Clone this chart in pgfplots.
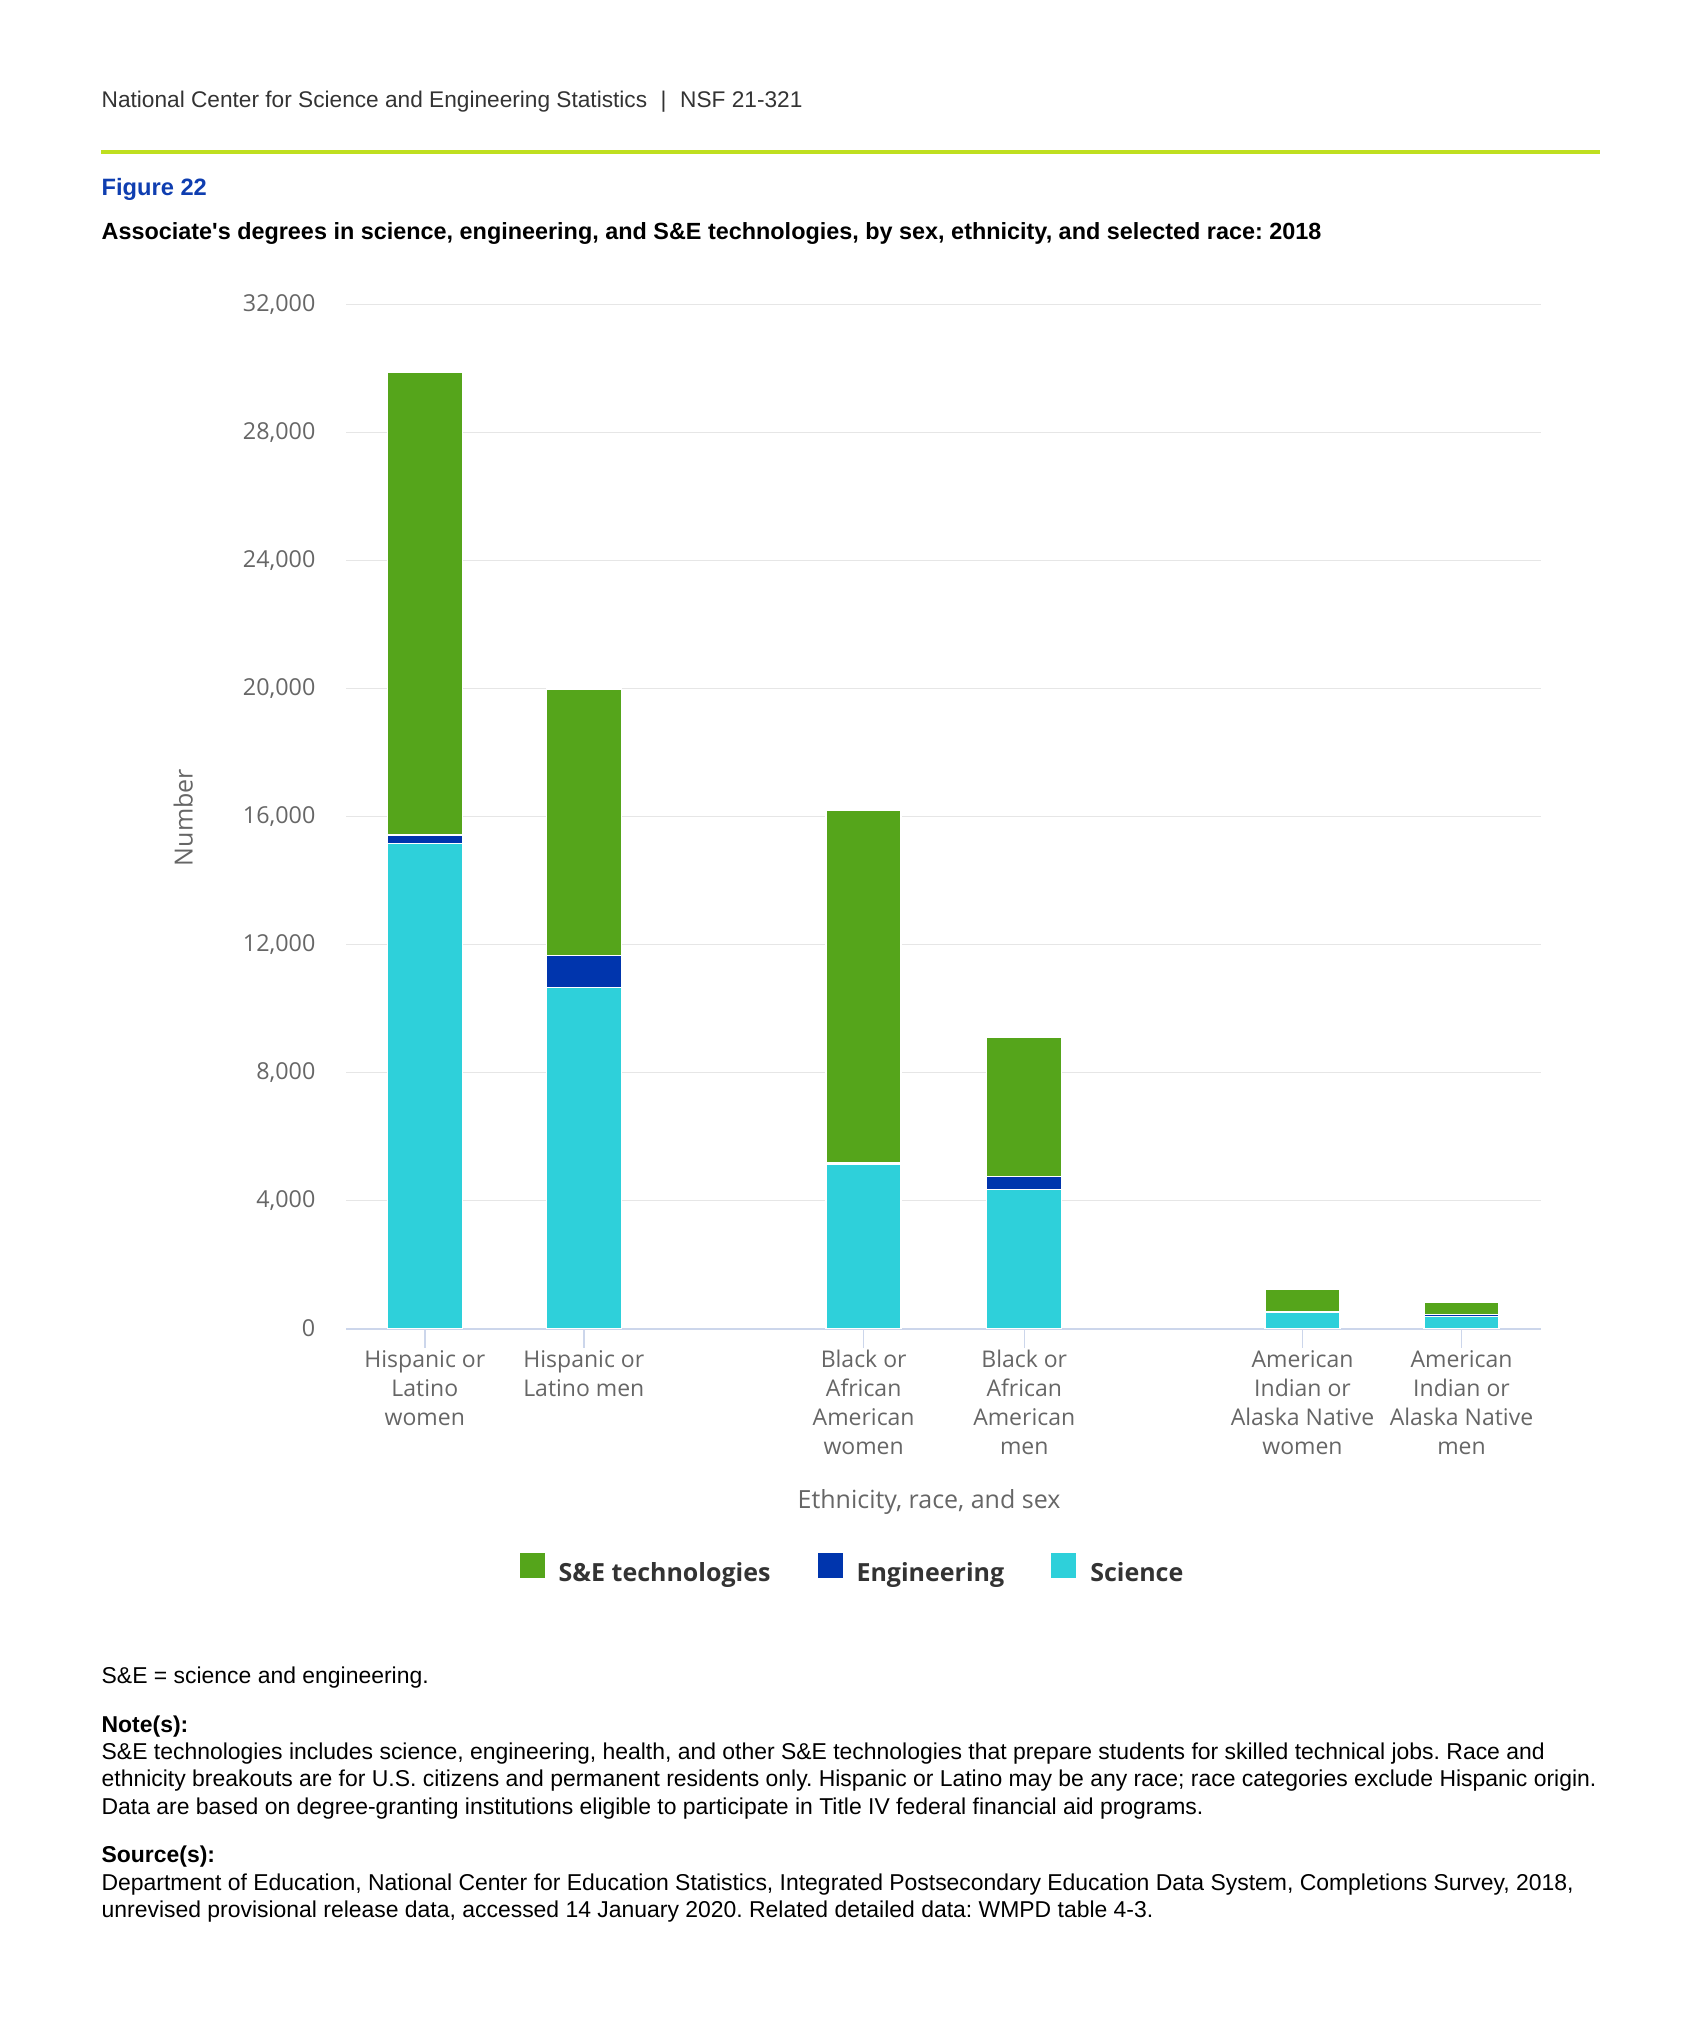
\documentclass[border=0pt]{standalone}
\usepackage{pgfplots}
\pgfplotsset{compat=1.18}
\usepackage{pgfplotstable}
\usepackage{fontspec}
\setmainfont{Liberation Sans}
\newfontfamily\osans{Open Sans}
\frenchspacing

\definecolor{tech}{HTML}{55A51B}
\definecolor{eng}{HTML}{0035AD}
\definecolor{sci}{HTML}{2ED0DA}
\definecolor{gridc}{HTML}{E6E6E6}
\definecolor{axisc}{HTML}{CCD6EB}
\definecolor{tickc}{HTML}{666666}
\definecolor{hdr}{HTML}{333333}
\definecolor{figblue}{HTML}{0F3EB0}
\definecolor{lime}{HTML}{BFDF1F}

% x = position of the bar
\pgfplotstableread{
x     sci    eng   tech
0     15160  260   14460
1     10660  1000  8320
2.76  5120   50    11010
3.77  4350   400   4350
5.52  505    10    710
6.52  380    60    380
}\degrees

\begin{document}
\begin{tikzpicture}
\path[use as bounding box] (0,0) rectangle (510pt,-609pt);

% page texts, in pixel units of the reference (origin top left)
\begin{scope}[x=0.3pt,y=-0.3pt]
\fill[lime] (101,149.7) rectangle (1600,153.7);
\node[anchor=base west,inner sep=0pt,text=hdr,font=\fontsize{6.8}{8}\selectfont] at (101,108)
  {National Center for Science and Engineering Statistics\hspace{0.6em}|\hspace{0.6em}NSF 21-321};
\node[anchor=base west,inner sep=0pt,text=figblue,font=\bfseries\fontsize{7.1}{8.5}\selectfont] at (101,196) {Figure 22};
\node[anchor=base west,inner sep=0pt,text=black,font=\bfseries\fontsize{7.02}{8.5}\selectfont] at (101,240)
  {Associate\textquotesingle s degrees in science, engineering, and S\&E technologies, by sex, ethnicity, and selected race: 2018};
\begin{scope}[every node/.style={anchor=base west,inner sep=0pt,text=black,font=\fontsize{6.88}{8.2}\selectfont}]
\node at (101,1683) {S\&E = science and engineering.};
\node[font=\bfseries\fontsize{6.88}{8.2}\selectfont] at (101,1732) {Note(s):};
\node at (101,1759) {S\&E technologies includes science, engineering, health, and other S\&E technologies that prepare students for skilled technical jobs. Race and};
\node at (101,1786) {ethnicity breakouts are for U.S. citizens and permanent residents only. Hispanic or Latino may be any race; race categories exclude Hispanic origin.};
\node at (101,1814) {Data are based on degree-granting institutions eligible to participate in Title IV federal financial aid programs.};
\node[font=\bfseries\fontsize{6.88}{8.2}\selectfont] at (101,1862) {Source(s):};
\node at (101,1890) {Department of Education, National Center for Education Statistics, Integrated Postsecondary Education Data System, Completions Survey, 2018,};
\node at (101,1917) {unrevised provisional release data, accessed 14 January 2020. Related detailed data: WMPD table 4-3.};
\end{scope}
\end{scope}

\begin{axis}[
  at={(103.8pt,-398.55pt)}, anchor=south west,
  scale only axis, width=358.5pt, height=307.2pt,
  ybar stacked, bar width=22.5pt,
  xmin=-0.4956, xmax=7.02,
  ymin=0, ymax=32000,
  ytick={0,4000,...,32000},
  scaled y ticks=false,
  /pgf/number format/assume math mode=true,
  yticklabel style={/pgf/number format/1000 sep={,}, anchor=east, inner sep=0pt, xshift=-9pt,
    font=\osans\fontsize{7}{8.4}\selectfont, text=tickc},
  xtick={0,1,2.76,3.77,5.52,6.52},
  xticklabels={{Hispanic or\\Latino\\women},{Hispanic or\\Latino men},
    {Black or\\African\\American\\women},{Black or\\African\\American\\men},
    {American\\Indian or\\Alaska Native\\women},{American\\Indian or\\Alaska Native\\men}},
  xticklabel style={font=\osans\fontsize{6.9}{8.7}\selectfont, text=tickc, align=center,
    anchor=north, inner sep=0pt, yshift=-6.4pt},
  axis x line*=bottom, axis y line*=left,
  axis line style={-},
  x axis line style={draw=axisc, line width=0.6pt},
  y axis line style={draw=none},
  tick align=inside, major tick length=5.7pt,
  xtick style={draw=axisc, line width=0.45pt, yshift=-5.7pt},
  ytick style={draw=none},
  ymajorgrids, grid style={draw=gridc, line width=0.45pt},
  xlabel={Ethnicity, race, and sex},
  xlabel style={at={(axis description cs:0.4879,-0.1694)}, anchor=center,
    font=\osans\fontsize{7.5}{9}\selectfont, text=tickc},
  ylabel={Number},
  ylabel style={at={(axis description cs:-0.1361,0.499)}, anchor=center,
    font=\osans\fontsize{7.5}{9}\selectfont, text=tickc},
  legend image code/.code={\fill[#1,draw=none] (0pt,-1pt) rectangle (7.5pt,6.5pt);},
  reverse legend,
  legend columns=3,
  legend style={at={(axis description cs:0.423,-0.2358)}, anchor=center,
    draw=none, fill=none, inner sep=0pt,
    font=\osans\bfseries\fontsize{7.5}{9}\selectfont, text=hdr,
    nodes={inner sep=0pt},
    /tikz/every even column/.append style={column sep=14.1pt}},
]
\addplot[fill=sci, draw=white, line width=0.4pt] table[x=x, y=sci] {\degrees};
\addlegendentry{\hspace*{4.2pt}Science}
\addplot[fill=eng, draw=white, line width=0.4pt] table[x=x, y=eng] {\degrees};
\addlegendentry{\hspace*{4.2pt}Engineering}
\addplot[fill=tech, draw=white, line width=0.4pt] table[x=x, y=tech] {\degrees};
\addlegendentry{\hspace*{4.2pt}S\&E technologies}
\end{axis}
\end{tikzpicture}
\end{document}
